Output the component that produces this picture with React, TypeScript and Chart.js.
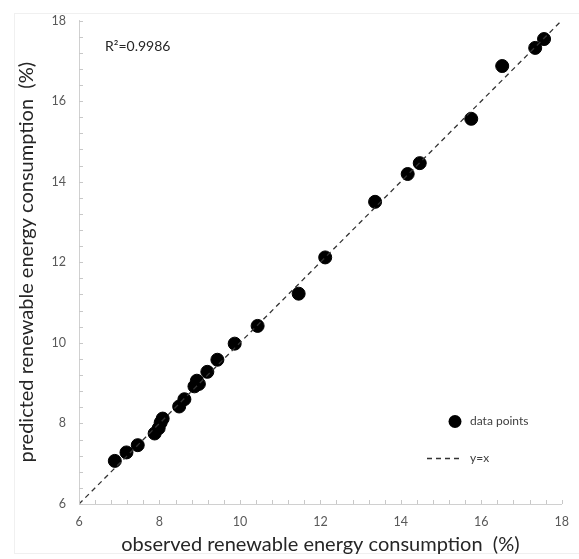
import React, { useEffect, useRef } from "react";
import { Chart, registerables } from "chart.js";

Chart.register(...registerables);

const observed = [6.89, 7.18, 7.46, 7.88, 7.98, 8.03, 8.08, 8.49, 8.62, 8.87, 8.93, 8.98, 9.19, 9.44, 9.87, 10.44, 11.46, 12.12, 13.36, 14.17, 14.47, 15.75, 16.52, 17.34, 17.56];
const predicted = [7.07, 7.28, 7.46, 7.75, 7.88, 8.02, 8.12, 8.42, 8.6, 8.92, 9.06, 8.98, 9.28, 9.58, 9.98, 10.42, 11.22, 12.12, 13.5, 14.19, 14.46, 15.56, 16.87, 17.32, 17.54];
const identityLine = [6, 18];
const axisMin = 6;
const axisMax = 18;
const majorStep = 2;
const minorStep = 0.4;
const r2Label = "R\u00B2=0.9986";
const legendLabels = ["data points", "y=x"];
const xTitle = "observed renewable energy consumption  (%)";
const yTitle = "predicted renewable energy consumption  (%)";

const FONT = "Lato, 'Open Sans', sans-serif";

const extrasPlugin = {
  id: "extras",
  afterDraw(chart: any) {
    const ctx = chart.ctx;
    const xs = chart.scales.x;
    const ys = chart.scales.y;
    const area = chart.chartArea;
    ctx.save();
    // minor ticks (inside)
    ctx.strokeStyle = "#c8c8c8";
    ctx.lineWidth = 1;
    const n = Math.round((axisMax - axisMin) / minorStep);
    for (let i = 0; i <= n; i++) {
      const v = axisMin + i * minorStep;
      const px = Math.round(xs.getPixelForValue(v)) + 0.5;
      ctx.beginPath();
      ctx.moveTo(px, area.bottom);
      ctx.lineTo(px, area.bottom - 4);
      ctx.stroke();
      const py = Math.round(ys.getPixelForValue(v)) + 0.5;
      ctx.beginPath();
      ctx.moveTo(area.left, py);
      ctx.lineTo(area.left + 4, py);
      ctx.stroke();
    }
    // R2 annotation
    ctx.fillStyle = "#262626";
    ctx.font = `14px ${FONT}`;
    ctx.textBaseline = "middle";
    ctx.textAlign = "left";
    ctx.fillText(r2Label, area.left + 26, area.top + 26);
    // legend
    const lx = area.left + 376;
    const ly1 = area.top + 401;
    const ly2 = area.top + 438;
    ctx.fillStyle = "#000";
    ctx.beginPath();
    ctx.arc(lx, ly1, 6.5, 0, Math.PI * 2);
    ctx.fill();
    ctx.strokeStyle = "#333";
    ctx.lineWidth = 1.3;
    ctx.setLineDash([5, 4]);
    ctx.beginPath();
    ctx.moveTo(lx - 28, ly2);
    ctx.lineTo(lx + 8, ly2);
    ctx.stroke();
    ctx.setLineDash([]);
    ctx.fillStyle = "#404040";
    ctx.font = `12px ${FONT}`;
    ctx.fillText(legendLabels[0], lx + 15, ly1);
    ctx.fillText(legendLabels[1], lx + 15, ly2);
    ctx.restore();
  },
};

export default function App() {
  const ref = useRef<HTMLCanvasElement>(null);
  useEffect(() => {
    document.body.style.margin = "0";
    const points = observed.map((x, i) => ({ x, y: predicted[i] }));
    const line = identityLine.map((v) => ({ x: v, y: v }));
    const chart = new Chart(ref.current!, {
      type: "scatter",
      data: {
        datasets: [
          {
            label: legendLabels[1],
            data: line,
            showLine: true,
            borderColor: "#333",
            borderWidth: 1.3,
            borderDash: [5, 4],
            pointRadius: 0,
            fill: false,
          } as any,
          {
            label: legendLabels[0],
            data: points,
            backgroundColor: "#000",
            borderColor: "#000",
            pointRadius: 6.5,
            pointHoverRadius: 6.5,
          },
        ],
      },
      options: {
        animation: false,
        responsive: false,
        layout: { padding: { top: 19, right: 12, left: 0, bottom: 0 } },
        plugins: { legend: { display: false }, tooltip: { enabled: false } },
        scales: {
          x: {
            type: "linear",
            min: axisMin,
            max: axisMax,
            ticks: {
              stepSize: majorStep,
              color: "#595959",
              font: { family: FONT, size: 12.5 },
              padding: 10,
            },
            grid: { display: true, drawOnChartArea: false, drawTicks: false },
            border: { display: true, color: "#d0d0d0", width: 1 },
            title: {
              display: true,
              text: xTitle,
              color: "#262626",
              font: { family: FONT, size: 20 },
              padding: { top: 0, bottom: 2 },
            },
            afterFit(scale: any) {
              scale.height = 55;
            },
          },
          y: {
            type: "linear",
            min: axisMin,
            max: axisMax,
            ticks: {
              stepSize: majorStep,
              color: "#595959",
              font: { family: FONT, size: 12.5 },
              padding: 13,
            },
            grid: { display: true, drawOnChartArea: false, drawTicks: false },
            border: { display: true, color: "#d0d0d0", width: 1 },
            title: {
              display: true,
              text: yTitle,
              color: "#262626",
              font: { family: FONT, size: 20 },
              padding: { top: 15, bottom: 0 },
            },
            afterFit(scale: any) {
              scale.width = 79;
            },
          },
        },
      },
      plugins: [extrasPlugin],
    });
    return () => chart.destroy();
  }, []);
  return (
    <div style={{ position: "relative", width: 579, height: 559, background: "#fff" }}>
      <div
        style={{
          position: "absolute",
          left: 14,
          top: 13,
          right: 0,
          bottom: 5,
          borderLeft: "1px solid #f0f0f0",
          borderTop: "1px solid #f0f0f0",
          borderBottom: "1px solid #f0f0f0",
        }}
      />
      <canvas ref={ref} width={579} height={559} style={{ position: "absolute", left: 0, top: 0 }} />
    </div>
  );
}
